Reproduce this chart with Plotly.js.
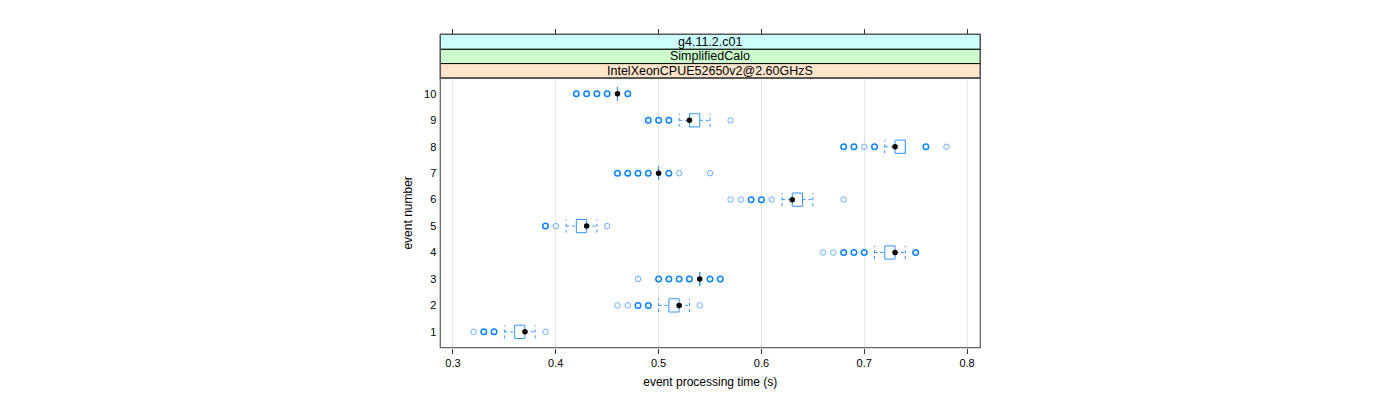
<!DOCTYPE html>
<html>
<head>
<meta charset="utf-8">
<script src="https://cdn.plot.ly/plotly-3.0.1.min.js"></script>
<style>html,body{margin:0;padding:0;background:#fff}#chart{width:1400px;height:400px}</style>
</head>
<body>
<div id="chart"></div>
<script>
// ---- data (event processing time, seconds) ----
const events = [1, 2, 3, 4, 5, 6, 7, 8, 9, 10];
const lowerWhisker = [0.35, 0.50, 0.54, 0.71, 0.41, 0.62, 0.50, 0.72, 0.52, 0.46];
const q1Values     = [0.36, 0.51, 0.54, 0.72, 0.42, 0.63, 0.50, 0.73, 0.53, 0.46];
const medianValues = [0.37, 0.52, 0.54, 0.73, 0.43, 0.63, 0.50, 0.73, 0.53, 0.46];
const q3Values     = [0.37, 0.52, 0.54, 0.73, 0.43, 0.64, 0.50, 0.74, 0.54, 0.46];
const upperWhisker = [0.38, 0.53, 0.54, 0.74, 0.44, 0.65, 0.50, 0.74, 0.55, 0.46];
const outliers = [
  [0.32, 0.33, 0.34, 0.39],
  [0.46, 0.47, 0.48, 0.49, 0.54],
  [0.48, 0.50, 0.51, 0.52, 0.53, 0.55, 0.56],
  [0.66, 0.67, 0.68, 0.69, 0.70, 0.75],
  [0.39, 0.40, 0.45],
  [0.57, 0.58, 0.59, 0.60, 0.61, 0.68],
  [0.46, 0.47, 0.48, 0.49, 0.51, 0.52, 0.55],
  [0.68, 0.69, 0.70, 0.71, 0.76, 0.78],
  [0.49, 0.50, 0.51, 0.57],
  [0.42, 0.43, 0.44, 0.45, 0.47]
];
// how many runs overlap at each outlier value (estimated from circle darkness)
const outlierCounts = [
  [1, 2, 2, 1],
  [1, 1, 2, 2, 1],
  [1, 2, 2, 2, 2, 2, 2],
  [1, 1, 2, 2, 2, 2],
  [2, 1, 1],
  [1, 1, 2, 2, 1, 1],
  [2, 2, 2, 2, 2, 1, 1],
  [2, 2, 1, 2, 2, 1],
  [2, 2, 2, 1],
  [2, 2, 2, 2, 2]
];
const stripLabels = ["g4.11.2.c01", "SimplifiedCalo", "IntelXeonCPUE52650v2@2.60GHzS"];
const stripColors = ["#ccffff", "#ccffcc", "#ffe5cc"];
const xTicks = [0.3, 0.4, 0.5, 0.6, 0.7, 0.8];

// ---- build traces ----
const HALF = 0.25;
const blue = "#0080ff";
const traces = [];

// box rectangles
const bx = [], by = [];
events.forEach((e, i) => {
  bx.push(q1Values[i], q3Values[i], q3Values[i], q1Values[i], q1Values[i], null);
  by.push(e - HALF, e - HALF, e + HALF, e + HALF, e - HALF, null);
});
traces.push({x: bx, y: by, type: 'scatter', mode: 'lines', line: {color: '#3393ff', width: 1}, hoverinfo: 'skip'});

// whiskers (dashed) + caps
const wx = [], wy = [];
events.forEach((e, i) => {
  if (lowerWhisker[i] < q1Values[i]) {
    wx.push(lowerWhisker[i], q1Values[i], null); wy.push(e, e, null);
  }
  if (upperWhisker[i] > q3Values[i]) {
    wx.push(q3Values[i], upperWhisker[i], null); wy.push(e, e, null);
  }
  wx.push(lowerWhisker[i], lowerWhisker[i], null); wy.push(e - HALF, e + HALF, null);
  wx.push(upperWhisker[i], upperWhisker[i], null); wy.push(e - HALF, e + HALF, null);
});
traces.push({x: wx, y: wy, type: 'scatter', mode: 'lines', line: {color: '#3393ff', width: 1, dash: '3px,3px'}, hoverinfo: 'skip'});

// outliers
const ox = [], oy = [], ow = [], oc = [];
events.forEach((e, i) => {
  outliers[i].forEach((v, j) => {
    ox.push(v); oy.push(e);
    const c = outlierCounts[i][j];
    ow.push(c > 1 ? 1.5 : 1);
    oc.push(c > 1 ? '#0a84ff' : '#66adff');
  });
});
traces.push({x: ox, y: oy, type: 'scatter', mode: 'markers',
  marker: {symbol: 'circle-open', size: 5.5, color: oc, line: {width: ow, color: oc}}, hoverinfo: 'x+y'});

// medians (black dots)
traces.push({x: medianValues, y: events, type: 'scatter', mode: 'markers',
  marker: {symbol: 'circle', size: 5.5, color: '#000'}, hoverinfo: 'x+y'});

// invisible trace for top tick axis
traces.push({x: [xTicks[0]], y: [events[0]], xaxis: 'x2', type: 'scatter', mode: 'markers', marker: {opacity: 0}, hoverinfo: 'skip'});

// ---- layout geometry ----
const W = 1400, H = 400;
const panelL = 440.3 / W, panelR = 980.3 / W;
const panelB = 1 - 347.7 / H, panelT = 1 - 78 / H;
const stripEdges = [1 - 34.3 / H, 1 - 49.3 / H, 1 - 63.6 / H, panelT];

const shapes = [];
const annotations = [];
stripLabels.forEach((t, k) => {
  shapes.push({type: 'rect', xref: 'paper', yref: 'paper', x0: panelL, x1: panelR,
    y0: stripEdges[k + 1], y1: stripEdges[k], fillcolor: stripColors[k], line: {color: '#000', width: 1}, layer: 'below'});
  annotations.push({xref: 'paper', yref: 'paper', x: (panelL + panelR) / 2, y: (stripEdges[k] + stripEdges[k + 1]) / 2,
    text: t, showarrow: false, font: {family: 'Liberation Sans, Arial, sans-serif', size: 12.5, color: '#000'},
    xanchor: 'center', yanchor: 'middle'});
});
// panel border
shapes.push({type: 'rect', xref: 'paper', yref: 'paper', x0: panelL, x1: panelR, y0: panelB, y1: panelT,
  line: {color: '#666', width: 1.3}, fillcolor: 'rgba(0,0,0,0)'});
// strip outer border
shapes.push({type: 'rect', xref: 'paper', yref: 'paper', x0: panelL, x1: panelR, y0: panelT, y1: stripEdges[0],
  line: {color: '#555', width: 1.3}, fillcolor: 'rgba(0,0,0,0)'});

const font = {family: 'Liberation Sans, Arial, sans-serif', size: 11, color: '#000'};

const layout = {
  width: W, height: H,
  margin: {l: 0, r: 0, t: 0, b: 0},
  paper_bgcolor: '#fff', plot_bgcolor: '#fff',
  showlegend: false,
  font: font,
  xaxis: {
    domain: [panelL, panelR], range: [0.2877, 0.8129],
    tickvals: xTicks, ticktext: xTicks.map(v => v.toFixed(1)),
    ticks: 'outside', ticklen: 5, tickcolor: '#333', tickwidth: 1,
    showgrid: true, gridcolor: '#e6e6e6', gridwidth: 1,
    zeroline: false, showline: false,
    tickfont: {family: 'Liberation Sans, Arial, sans-serif', size: 11, color: '#000'},
    title: {text: 'event processing time (s)', standoff: 9, font: {family: 'Liberation Sans, Arial, sans-serif', size: 12, color: '#000'}},
    anchor: 'y'
  },
  xaxis2: {
    overlaying: 'x', matches: 'x', side: 'top', anchor: 'free', position: stripEdges[0],
    tickvals: xTicks, showticklabels: false, ticks: 'outside', ticklen: 5, tickcolor: '#333', tickwidth: 1,
    showgrid: false, zeroline: false, showline: false
  },
  yaxis: {
    domain: [panelB, panelT], range: [0.4, 10.6],
    tickvals: events, ticktext: events.map(String),
    ticks: '', showgrid: false, zeroline: false, showline: false,
    ticklabelstandoff: 3,
    tickfont: {family: 'Liberation Sans, Arial, sans-serif', size: 11, color: '#000'},
    title: {text: 'event number', standoff: 8, font: {family: 'Liberation Sans, Arial, sans-serif', size: 12, color: '#000'}}
  },
  shapes: shapes,
  annotations: annotations
};

Plotly.newPlot('chart', traces, layout, {displayModeBar: false, staticPlot: true});
</script>
</body>
</html>
